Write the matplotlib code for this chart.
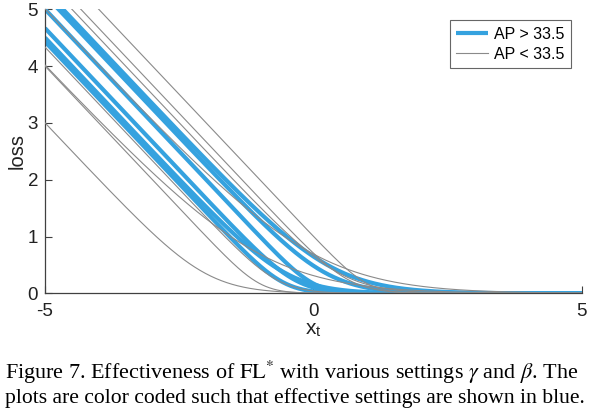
import numpy as np
import matplotlib
matplotlib.use("Agg")
import matplotlib.pyplot as plt

# FL* settings (gamma, beta); loss = -log(sigmoid(gamma*x+beta))/gamma
blue_gamma = [4.0, 1.5, 2.0, 3.0, 2.0, 3.5]
blue_beta = [0.0, -0.5, -0.5, 1.0, 1.0, 2.0]
gray_gamma = [2.0, 1.0, 4.0, 3.0, 1.0, 2.0, 3.0, 4.0]
gray_beta = [4.0, 1.0, 4.0, 2.0, 0.0, -1.0, -2.0, -4.0]
legend_labels = ["AP > 33.5", "AP < 33.5"]
x_ticks = [-5, 0, 5]
y_ticks = [0, 1, 2, 3, 4, 5]

BLUE = "#35a2df"
GRAY = "#8a8a8a"
AXC = "#404040"

plt.rcParams["font.family"] = ["Liberation Sans", "DejaVu Sans"]
plt.rcParams["mathtext.fontset"] = "stix"

def fl_star(x, g, b):
    return np.logaddexp(0.0, -(g * x + b)) / g

fig = plt.figure(figsize=(5.92, 4.18), dpi=100)
ax = fig.add_axes([0.076, 0.298, 0.907, 0.680])

xs = np.linspace(-5, 5, 801)
for i, (g, b) in enumerate(zip(blue_gamma, blue_beta)):
    ax.plot(xs, fl_star(xs, g, b), color=BLUE, lw=3.0, solid_capstyle="butt",
            label=legend_labels[0] if i == 0 else None, zorder=2)
for i, (g, b) in enumerate(zip(gray_gamma, gray_beta)):
    ax.plot(xs, fl_star(xs, g, b), color=GRAY, lw=0.8,
            label=legend_labels[1] if i == 0 else None, zorder=3)

ax.set_xlim(-5, 5)
ax.set_ylim(0, 5)
ax.set_xticks(x_ticks)
ax.set_yticks(y_ticks)
ax.set_xticklabels([str(t) for t in x_ticks])
ax.tick_params(direction="in", length=5, width=0.8, colors=AXC, labelsize=13.5,
               labelcolor="#222222", pad=5)
ax.tick_params(axis="x", pad=7)
for s in ["top", "right"]:
    ax.spines[s].set_visible(False)
for s in ["left", "bottom"]:
    ax.spines[s].set_color(AXC)
    ax.spines[s].set_linewidth(0.9)

ax.set_xlabel(r"x$_{\mathregular{t}}$", fontsize=15, color="#222222", labelpad=0)
ax.set_ylabel("loss", fontsize=14.5, color="#222222", labelpad=1)

leg = ax.legend(loc="upper right", bbox_to_anchor=(1.0, 1.0), fontsize=11.5,
                frameon=True, fancybox=False, handlelength=2.0, handletextpad=0.35,
                borderpad=0.4, labelspacing=0.3, borderaxespad=0.7)
leg.get_frame().set_edgecolor(AXC)
leg.get_frame().set_linewidth(0.8)

serif = ["Liberation Serif", "DejaVu Serif"]
fig.text(0.008, 0.093, r"Figure 7. Effectiveness of $\mathrm{FL}^{*}$ with various settings $\gamma$ and $\beta$. The",
         fontsize=15.9, family=serif, ha="left", va="baseline", color="black")
fig.text(0.008, 0.036, "plots are color coded such that effective settings are shown in blue.",
         fontsize=15.6, family=serif, ha="left", va="baseline", color="black")

fig.savefig("out.png", dpi=100)
